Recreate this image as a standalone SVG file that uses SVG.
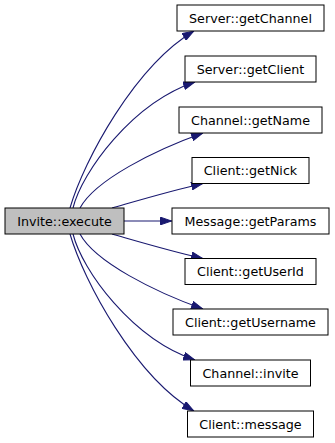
<svg xmlns="http://www.w3.org/2000/svg" width="335" height="443" viewBox="0 0 335 443">
  <style>
    .node rect { fill: #ffffff; stroke: #000000; stroke-width: 1; }
    #root rect { fill: #bfbfbf; }
    .node text { font-family: "DejaVu Sans", sans-serif; font-size: 12.7px; fill: #000000; text-anchor: middle; }
    .edge { fill: none; stroke: #191970; stroke-width: 1.1; marker-end: url(#arrow); }
  </style>
  <defs>
    <marker id="arrow" markerUnits="userSpaceOnUse" viewBox="0 0 12 8.6" markerWidth="12" markerHeight="8.6" refX="12" refY="4.3" orient="auto">
      <path d="M0.5,0.5 L11.5,4.3 L0.5,8.1 Z" fill="#191970" stroke="#191970" stroke-width="1"/>
    </marker>
  </defs>
  <rect width="335" height="443" fill="#ffffff"/>

  <!-- call edges from Invite::execute -->
  <g id="edges">
    <path class="edge" d="M70,208 C84,160 135,66 194,31"/>
    <path class="edge" d="M73,208 C82,172 132,103 195,82"/>
    <path class="edge" d="M80,208 C95,180 155,150 203,133"/>
    <path class="edge" d="M112,208 C140,200 170,191 203,183.5"/>
    <path class="edge" d="M124,221 L172,221"/>
    <path class="edge" d="M112,234 C140,242 170,251 203,258.5"/>
    <path class="edge" d="M80,234 C95,262 155,292 203,309"/>
    <path class="edge" d="M73,234 C82,270 132,339 195,360"/>
    <path class="edge" d="M70,234 C84,282 135,376 194,411"/>
  </g>

  <g id="root" class="node">
    <rect x="5" y="208" width="119" height="26"/>
    <text x="64.5" y="225.5">Invite::execute</text>
  </g>
  <g id="server_getChannel" class="node">
    <rect x="177" y="5" width="147" height="26"/>
    <text x="250.5" y="22.5">Server::getChannel</text>
  </g>
  <g id="server_getClient" class="node">
    <rect x="185" y="56" width="131" height="26"/>
    <text x="250.5" y="73.5">Server::getClient</text>
  </g>
  <g id="channel_getName" class="node">
    <rect x="179" y="107" width="143" height="26"/>
    <text x="250.5" y="124.5">Channel::getName</text>
  </g>
  <g id="client_getNick" class="node">
    <rect x="192" y="157.5" width="117" height="26"/>
    <text x="250.5" y="175">Client::getNick</text>
  </g>
  <g id="message_getParams" class="node">
    <rect x="172" y="208" width="157" height="26"/>
    <text x="250.5" y="225.5">Message::getParams</text>
  </g>
  <g id="client_getUserId" class="node">
    <rect x="185" y="258.5" width="131" height="26"/>
    <text x="250.5" y="276">Client::getUserId</text>
  </g>
  <g id="client_getUsername" class="node">
    <rect x="173" y="309" width="155" height="26"/>
    <text x="250.5" y="326.5">Client::getUsername</text>
  </g>
  <g id="channel_invite" class="node">
    <rect x="190.5" y="360" width="120" height="26"/>
    <text x="250.5" y="377.5">Channel::invite</text>
  </g>
  <g id="client_message" class="node">
    <rect x="187.5" y="411" width="126" height="26"/>
    <text x="250.5" y="428.5">Client::message</text>
  </g>
</svg>
